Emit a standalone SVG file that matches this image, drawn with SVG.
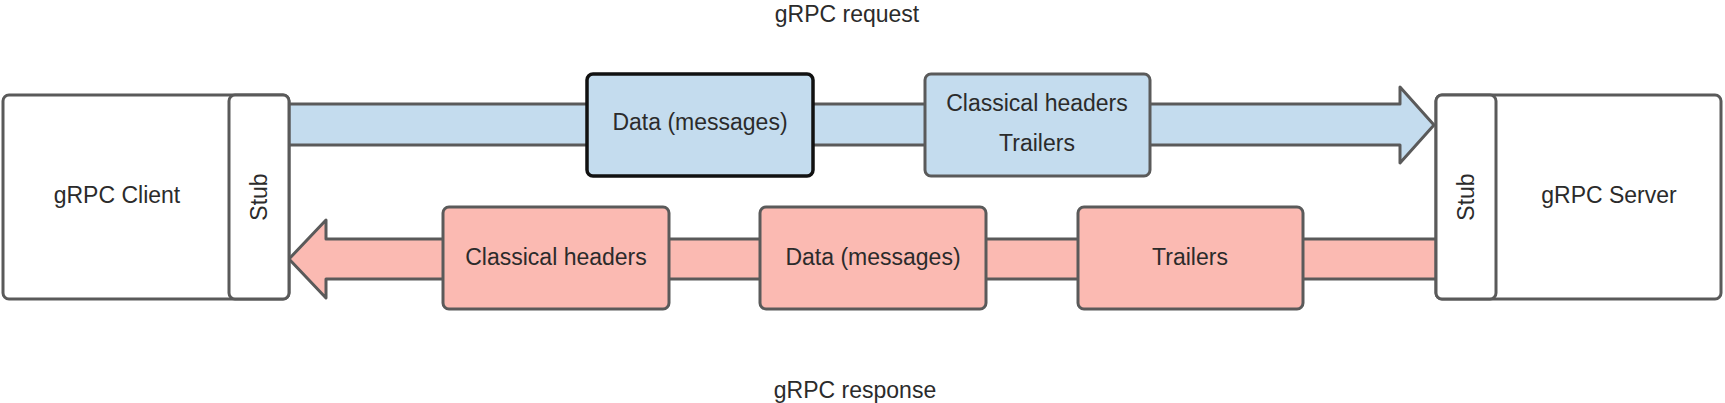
<svg xmlns="http://www.w3.org/2000/svg" width="1725" height="403" viewBox="0 0 1725 403">
<style>
text{font-family:"Liberation Sans",Arial,sans-serif;font-size:23px;fill:#2b2b2b;text-anchor:middle;dominant-baseline:central}
.box{fill:#ffffff;stroke:#5a5a5a;stroke-width:3}
.blue{fill:#c4dcee;stroke:#5a5a5a;stroke-width:3}
.blueDark{fill:#c4dcee;stroke:#111111;stroke-width:3.5}
.red{fill:#fbbab2;stroke:#5a5a5a;stroke-width:3}
.arrow{stroke:#5a5a5a;stroke-width:3;stroke-linejoin:round}
</style>
<rect width="1725" height="403" fill="#ffffff"/>
<g id="connectors">
  <path class="arrow" fill="#c4dcee" d="M285,104 L1400,104 L1400,87 L1434,125 L1400,163 L1400,145 L285,145 Z"/>
  <path class="arrow" fill="#fbbab2" d="M1440,239 L326,239 L326,220 L289,259 L326,298 L326,279 L1440,279 Z"/>
  <text x="847" y="14">gRPC request</text>
  <text x="855" y="390">gRPC response</text>
</g>
<g id="client">
  <rect class="box" x="3" y="95" width="286" height="204" rx="6"/>
  <text x="117" y="195">gRPC Client</text>
</g>
<g id="client-stub">
  <rect class="box" x="229" y="95" width="60" height="204" rx="6"/>
  <text transform="translate(259,197) rotate(-90)">Stub</text>
</g>
<g id="server">
  <rect class="box" x="1436" y="95" width="285" height="204" rx="6"/>
  <text x="1609" y="195">gRPC Server</text>
</g>
<g id="server-stub">
  <rect class="box" x="1436" y="95" width="60" height="204" rx="6"/>
  <text transform="translate(1466,197) rotate(-90)">Stub</text>
</g>
<g id="req-data">
  <rect class="blueDark" x="587" y="74" width="226" height="102" rx="6"/>
  <text x="700" y="122">Data (messages)</text>
</g>
<g id="req-headers">
  <rect class="blue" x="925" y="74" width="225" height="102" rx="6"/>
  <text x="1037" y="103">Classical headers</text>
  <text x="1037" y="143">Trailers</text>
</g>
<g id="resp-headers">
  <rect class="red" x="443" y="207" width="226" height="102" rx="6"/>
  <text x="556" y="257">Classical headers</text>
</g>
<g id="resp-data">
  <rect class="red" x="760" y="207" width="226" height="102" rx="6"/>
  <text x="873" y="257">Data (messages)</text>
</g>
<g id="resp-trailers">
  <rect class="red" x="1078" y="207" width="225" height="102" rx="6"/>
  <text x="1190" y="257">Trailers</text>
</g>
</svg>
